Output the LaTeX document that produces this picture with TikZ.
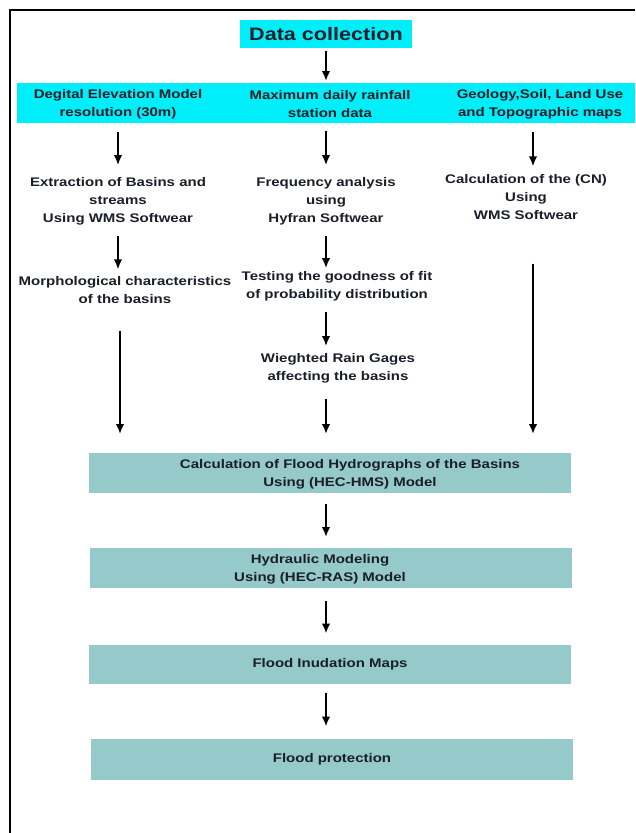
\documentclass[tikz,border=0pt]{standalone}
\usepackage{fontspec}
\setmainfont{Liberation Sans}[FakeStretch=1.2]
\usetikzlibrary{positioning, calc, shapes, arrows.meta}

\definecolor{bandcyan}{RGB}{0,238,250}
\definecolor{stepteal}{RGB}{150,202,202}
\definecolor{txtdark}{RGB}{25,30,40}

\begin{document}
\begin{tikzpicture}[x=1pt, y=-1pt, ->, >={Latex[length=10pt,width=8.5pt]}, line width=2pt,
  font=\bfseries\fontsize{12.5}{18}\selectfont,
  txt/.style={align=center, inner sep=0pt, text=txtdark},
  bandtxt/.style={txt, minimum height=40pt},
  stepbox/.style={fill=stepteal, inner sep=0pt, minimum height=40pt, minimum width=482pt, align=center, text=txtdark},
]
  \useasboundingbox (0,0) rectangle (635,833);
  \draw[-, line width=2.6pt] (635,10) -- (10,10) -- (10,833);

  % data sources
  \node[fill=bandcyan, minimum width=172pt, minimum height=28pt, inner sep=0pt, text=txtdark,
        font=\bfseries\fontsize{18}{20}\selectfont] (datacol) at (326,34) {Data collection};
  \node[fill=bandcyan, minimum width=618pt, minimum height=40pt, inner sep=0pt] (band) at (326,103) {};
  \node[bandtxt] (dem) at (118,104) {Degital Elevation Model\\resolution (30m)};
  \node[bandtxt] (rain) at (330,104) {Maximum daily rainfall\\station data};
  \node[bandtxt] (geo) at (540,104) {Geology,Soil, Land Use\\and Topographic maps};

  % three columns
  \node[txt] (extract) at (118,201) {Extraction of Basins and\\streams\\Using WMS Softwear};
  \node[txt] (morph) at (125,290) {Morphological characteristics\\of the basins};
  \node[txt] (freq) at (326,201) {Frequency analysis\\using\\Hyfran Softwear};
  \node[txt] (test) at (337,286) {Testing the goodness of fit\\of probability distribution};
  \node[txt] (weight) at (338,368) {Wieghted Rain Gages\\affecting the basins};
  \node[txt] (cn) at (526,197) {Calculation of the (CN)\\Using\\WMS Softwear};

  % modelling chain
  \node[stepbox, label={[txt,xshift=20pt,yshift=-1pt]center:{Calculation of Flood Hydrographs of the Basins\\Using (HEC-HMS) Model}}] (hms) at (330,473) {};
  \node[stepbox, label={[txt,xshift=-11pt,yshift=-1pt]center:{Hydraulic Modeling\\Using (HEC-RAS) Model}}] (ras) at (331,568) {};
  \node[stepbox, minimum height=39pt] (inund) at (330,664) {Flood Inudation Maps};
  \node[stepbox, minimum height=41pt] (protect) at (332,759) {Flood protection};

  \path
    (datacol) edge[shorten <=2pt, shorten >=1pt] (datacol |- band.north)
    (dem.south) edge[shorten <=7pt, shorten >=11pt] (dem.south |- extract.north)
    (extract.south) edge[shorten <=10pt, shorten >=6pt] (extract.south |- morph.north)
    ([xshift=2pt]extract.south |- morph.south) edge[shorten <=26pt, shorten >=18pt] ([xshift=2pt]extract.south |- hms.north)
    (freq.south |- band.south) edge[shorten <=7pt, shorten >=11pt] (freq.north)
    (freq.south) edge[shorten <=10pt, shorten >=2pt] (freq.south |- test.north)
    (freq.south |- test.south) edge[shorten <=10pt, shorten >=6pt] (freq.south |- weight.north)
    (freq.south |- weight.south) edge[shorten <=15pt, shorten >=18pt] (freq.south |- hms.north)
    ([xshift=-7pt]geo.south) edge[shorten <=7pt, shorten >=7pt] ([xshift=-7pt]geo.south |- cn.north)
    ([xshift=7pt]cn.south) edge[shorten <=43pt, shorten >=18pt] ([xshift=7pt]cn.south |- hms.north)
    (hms.south -| datacol) edge[shorten <=10pt, shorten >=10pt] (ras.north -| datacol)
    (ras.south -| datacol) edge[shorten <=12pt, shorten >=10pt] (inund.north -| datacol)
    (inund.south -| datacol) edge[shorten <=8pt, shorten >=11pt] (protect.north -| datacol);
\end{tikzpicture}
\end{document}
